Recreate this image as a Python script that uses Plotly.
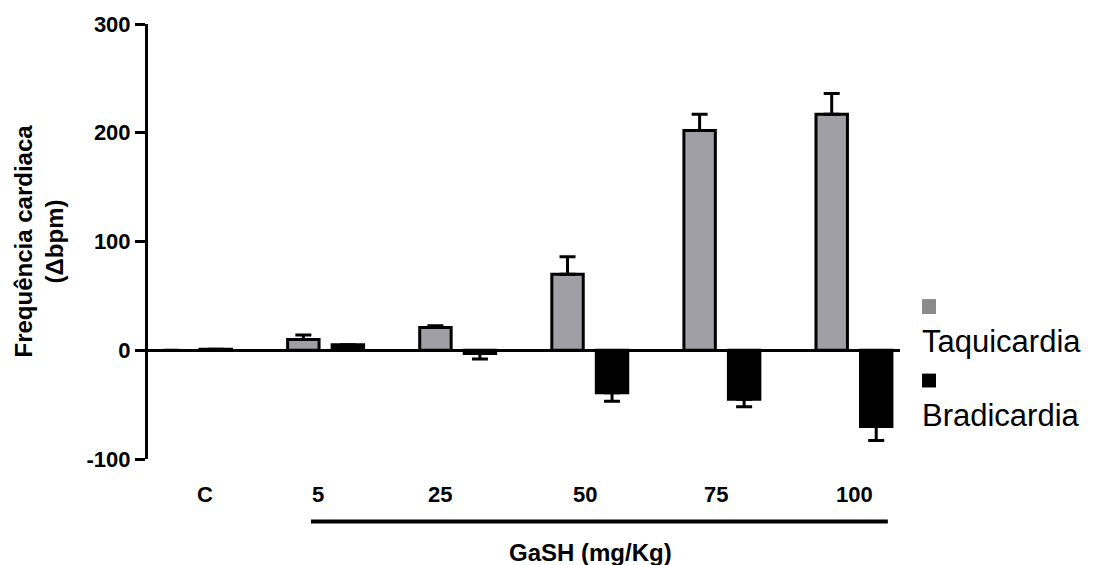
import plotly.graph_objects as go

groups = ["C", "5", "25", "50", "75", "100"]
taqui = [0, 10, 21, 70, 202, 217]
taqui_err = [0, 4, 1.5, 16, 15, 19]
bradi = [1, 5, -3, -39, -45, -70]
bradi_err = [0, 3, 5, 8, 7, 13]
series_names = ["Taquicardia", "Bradicardia"]
yticks = [-100, 0, 100, 200, 300]
ytick_labels = [str(v) for v in yticks]

grey = "#a09fa5"
xpos = list(range(len(groups)))
zeros = [0] * len(groups)
taqui_lw = [3 if v != 0 else 0 for v in taqui]
bradi_lw = [3 if v != 0 else 0 for v in bradi]

fig = go.Figure()
fig.add_trace(go.Bar(
    x=xpos, y=taqui, name=series_names[0],
    width=0.238, offset=-0.288,
    marker=dict(color=grey, line=dict(color="black", width=taqui_lw)),
    error_y=dict(type="data", symmetric=False, array=taqui_err, arrayminus=zeros,
                 thickness=3, width=8, color="black"),
))
fig.add_trace(go.Bar(
    x=xpos, y=bradi, name=series_names[1],
    width=0.238, offset=0.049,
    marker=dict(color="black", line=dict(color="black", width=bradi_lw)),
    error_y=dict(type="data", symmetric=False, array=zeros, arrayminus=bradi_err,
                 thickness=3, width=8, color="black"),
))

font_fam = "Liberation Sans, Arial, sans-serif"
label_shift = [0.086, -0.058, -0.135, -0.037, -0.046, 0.0]
annotations = []
for i, g in enumerate(groups):
    annotations.append(dict(x=i + label_shift[i], y=-0.0822, xref="x", yref="paper",
                            text=g, showarrow=False, xanchor="center", yanchor="middle",
                            font=dict(family=font_fam, size=22, color="black", weight="bold")))
annotations.append(dict(x=0.589, y=-0.2146, xref="paper", yref="paper", text="GaSH (mg/Kg)",
                        showarrow=False, xanchor="center", yanchor="middle",
                        font=dict(family=font_fam, size=24, color="black", weight="bold")))
annotations.append(dict(x=0, y=0.5, xref="paper", yref="paper", xshift=-110,
                        text="Frequência cardiaca<br>(Δbpm)", textangle=-90, showarrow=False,
                        xanchor="center", yanchor="middle",
                        font=dict(family=font_fam, size=24, color="black", weight="bold")))
annotations.append(dict(x=1.0266, y=0.2694, xref="paper", yref="paper", text=series_names[0],
                        showarrow=False, xanchor="left", yanchor="middle",
                        font=dict(family=font_fam, size=31, color="black")))
annotations.append(dict(x=1.0266, y=0.1005, xref="paper", yref="paper", text=series_names[1],
                        showarrow=False, xanchor="left", yanchor="middle",
                        font=dict(family=font_fam, size=31, color="black")))

shapes = [
    dict(type="line", xref="x", yref="paper", x0=0.889, x1=5.256, y0=-0.1438, y1=-0.1438,
         line=dict(color="black", width=4)),
    dict(type="rect", xref="paper", yref="paper", x0=1.0293, x1=1.0479, y0=0.3333, y1=0.3676,
         fillcolor="#8a8a8a", line=dict(width=0)),
    dict(type="rect", xref="paper", yref="paper", x0=1.0293, x1=1.0479, y0=0.1644, y1=0.1963,
         fillcolor="black", line=dict(width=0)),
]

fig.update_layout(
    width=1093, height=565,
    margin=dict(l=148, r=193, t=21, b=106),
    paper_bgcolor="white", plot_bgcolor="white",
    barmode="overlay", showlegend=False,
    annotations=annotations, shapes=shapes,
    xaxis=dict(range=[-0.345, 5.348], showgrid=False, zeroline=False, showline=False,
               showticklabels=False, ticks=""),
    yaxis=dict(range=[-100, 300], tickvals=yticks, ticktext=ytick_labels, showgrid=False,
               zeroline=True, zerolinecolor="black", zerolinewidth=3,
               showline=True, linecolor="black", linewidth=3,
               ticks="outside", ticklen=10, tickwidth=3, tickcolor="black",
               tickfont=dict(family=font_fam, size=22, color="black", weight="bold")),
)

fig.write_html("out.html")
